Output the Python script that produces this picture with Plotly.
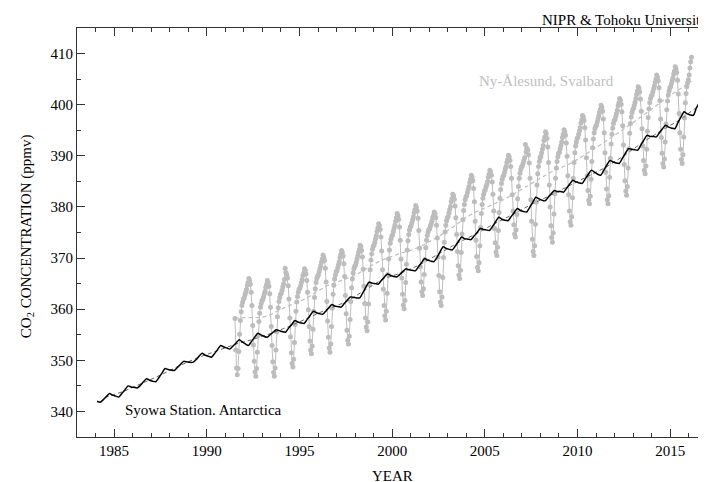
import plotly.graph_objects as go

# ---------------- data ----------------
# Syowa Station, Antarctica: 6 samples per year, starting 1984
syowa_start = 1984.0
syowa_per_year = 6
syowa_co2 = [
    342.0, 341.8, 342.3, 342.9, 343.5, 343.2,   # 1984
    343.0, 342.8, 343.5, 344.2, 345.0, 344.8,   # 1985
    344.7, 344.6, 345.1, 345.8, 346.4, 346.1,   # 1986
    345.9, 345.8, 346.6, 347.5, 348.4, 348.2,   # 1987
    348.1, 348.0, 348.6, 349.2, 349.8, 349.7,   # 1988
    349.6, 349.6, 350.1, 350.8, 351.4, 351.0,   # 1989
    350.8, 350.6, 351.3, 352.1, 352.9, 352.6,   # 1990
    352.4, 352.2, 352.8, 353.4, 354.0, 353.6,   # 1991
    353.2, 352.9, 353.7, 354.5, 355.3, 355.0,   # 1992
    354.7, 354.5, 355.0, 355.5, 356.0, 355.8,   # 1993
    355.6, 355.5, 356.3, 357.0, 357.8, 357.5,   # 1994
    357.3, 357.2, 358.0, 358.8, 359.6, 359.3,   # 1995
    359.1, 359.0, 359.6, 360.3, 360.9, 360.6,   # 1996
    360.5, 360.4, 361.1, 361.8, 362.4, 362.3,   # 1997
    362.2, 362.2, 363.2, 364.3, 365.3, 365.1,   # 1998
    365.0, 364.9, 365.6, 366.3, 366.9, 366.6,   # 1999
    366.4, 366.3, 366.8, 367.4, 367.9, 367.7,   # 2000
    367.6, 367.5, 368.3, 369.1, 369.9, 369.6,   # 2001
    369.4, 369.3, 370.1, 371.2, 372.2, 371.9,   # 2002
    371.7, 371.6, 372.4, 373.3, 374.1, 373.8,   # 2003
    373.7, 373.6, 374.3, 375.0, 375.8, 375.6,   # 2004
    375.5, 375.4, 376.2, 377.1, 378.0, 377.6,   # 2005
    377.4, 377.3, 378.1, 378.9, 379.7, 379.3,   # 2006
    379.1, 379.0, 379.9, 380.9, 381.9, 381.6,   # 2007
    381.3, 381.2, 381.9, 382.6, 383.2, 383.0,   # 2008
    383.0, 382.9, 383.7, 384.5, 385.2, 384.9,   # 2009
    384.7, 384.6, 385.5, 386.4, 387.2, 386.8,   # 2010
    386.4, 386.2, 387.2, 388.2, 389.1, 388.8,   # 2011
    388.6, 388.5, 389.5, 390.5, 391.4, 391.3,   # 2012
    391.2, 391.1, 392.1, 393.1, 394.0, 393.8,   # 2013
    393.8, 393.7, 394.5, 395.3, 396.0, 395.6,   # 2014
    395.4, 395.3, 396.5, 397.6, 398.6, 398.2,   # 2015
    398.0, 397.9, 399.4, 400.5,                 # 2016
]

syowa_trend_year = [1984.5, 1985.5, 1986.5, 1987.5, 1988.5, 1989.5, 1990.5, 1991.5,
                    1992.5, 1993.5, 1994.5, 1995.5, 1996.5, 1997.5, 1998.5, 1999.5,
                    2000.5, 2001.5, 2002.5, 2003.5, 2004.5, 2005.5, 2006.5, 2007.5,
                    2008.5, 2009.5, 2010.5, 2011.5, 2012.5, 2013.5, 2014.5, 2015.5, 2016.4]
syowa_trend = [342.7, 343.9, 345.5, 347.1, 348.9, 350.5, 351.8, 353.1,
               354.1, 355.3, 356.7, 358.4, 360.0, 361.4, 363.7, 365.9,
               367.1, 368.7, 370.8, 372.9, 374.7, 376.7, 378.5, 380.5,
               382.2, 384.1, 385.9, 387.7, 390.0, 392.6, 394.9, 397.0, 399.4]

# Ny-Alesund, Svalbard: 24 samples per year, starting July 1991
ny_start = 1991.5
ny_per_year = 24
ny_co2 = [
    358.2, 352.0, 348.5, 347.2, 348.4, 351.7, 355.1, 357.8, 359.5, 360.7, 361.4, 362.0,  # 1991
    362.2, 362.8, 363.3, 363.9, 364.7, 365.2, 366.0, 365.6, 364.9, 363.3, 360.7, 356.8,
    353.0, 349.8, 347.7, 346.9, 348.4, 351.6, 354.9, 357.6, 359.2, 360.4, 361.1, 361.7,  # 1992
    361.9, 362.4, 363.0, 363.5, 364.3, 364.9, 365.6, 365.2, 364.5, 363.0, 360.4, 356.6,
    352.9, 349.7, 347.6, 346.9, 348.5, 352.0, 355.6, 358.5, 360.3, 361.5, 362.3, 362.9,  # 1993
    363.1, 363.7, 364.4, 365.0, 365.8, 368.0, 367.2, 366.8, 366.1, 364.6, 362.0, 358.3,
    354.6, 351.5, 349.4, 348.7, 350.2, 353.5, 357.0, 359.6, 361.4, 362.5, 363.3, 363.9,  # 1994
    364.1, 364.6, 365.2, 365.8, 366.6, 367.1, 367.9, 367.6, 366.9, 365.6, 363.3, 359.9,
    356.6, 353.8, 352.0, 351.3, 352.8, 356.1, 359.6, 362.3, 364.0, 365.2, 366.0, 366.5,  # 1995
    366.7, 367.3, 367.9, 368.5, 369.2, 369.8, 370.6, 370.2, 369.5, 368.0, 365.3, 361.5,
    357.7, 354.5, 352.4, 351.6, 353.2, 356.6, 360.2, 362.9, 364.7, 365.9, 366.7, 367.3,  # 1996
    367.5, 368.1, 368.7, 369.3, 370.1, 370.7, 371.5, 371.1, 370.4, 368.9, 366.4, 362.7,
    359.1, 355.9, 353.9, 353.2, 354.7, 358.0, 361.5, 364.2, 365.9, 367.1, 367.9, 368.4,  # 1997
    368.6, 369.2, 369.8, 370.4, 371.1, 371.7, 372.5, 372.2, 371.5, 370.2, 367.8, 364.5,
    361.1, 358.3, 356.5, 355.8, 357.5, 361.0, 364.8, 367.7, 369.6, 370.8, 371.7, 372.3,  # 1998
    372.5, 373.1, 373.8, 374.4, 375.2, 375.9, 376.7, 376.3, 375.6, 374.1, 371.4, 367.7,
    363.9, 360.7, 358.7, 357.9, 359.6, 363.1, 366.8, 369.8, 371.6, 372.9, 373.7, 374.3,  # 1999
    374.5, 375.2, 375.8, 376.4, 377.2, 377.9, 378.7, 378.3, 377.6, 376.1, 373.5, 369.8,
    366.1, 362.9, 360.8, 360.1, 361.7, 365.2, 368.8, 371.6, 373.4, 374.6, 375.5, 376.1,  # 2000
    376.3, 376.9, 377.5, 378.1, 378.9, 379.5, 380.3, 379.9, 379.2, 377.8, 375.4, 371.9,
    368.3, 365.3, 363.4, 362.7, 364.0, 366.8, 369.7, 372.0, 373.5, 374.4, 375.1, 375.6,  # 2001
    375.7, 376.2, 376.7, 377.2, 377.9, 378.3, 379.0, 378.6, 377.9, 376.4, 373.9, 370.2,
    366.6, 363.4, 361.4, 360.7, 362.4, 366.2, 370.1, 373.1, 375.1, 376.4, 377.3, 377.9,  # 2002
    378.1, 378.8, 379.5, 380.1, 381.0, 381.6, 382.5, 382.2, 381.5, 380.2, 377.9, 374.6,
    371.3, 368.5, 366.7, 366.0, 367.6, 371.1, 374.7, 377.5, 379.3, 380.5, 381.4, 382.0,  # 2003
    382.2, 382.8, 383.4, 384.0, 384.8, 385.4, 386.2, 385.8, 385.1, 383.6, 381.0, 377.2,
    373.5, 370.3, 368.2, 367.5, 369.1, 372.4, 376.0, 378.7, 380.5, 381.7, 382.5, 383.1,  # 2004
    383.3, 383.9, 384.4, 385.0, 385.8, 386.4, 387.2, 386.9, 386.2, 384.9, 382.5, 379.2,
    375.8, 373.0, 371.2, 370.5, 372.1, 375.4, 378.9, 381.7, 383.4, 384.6, 385.4, 386.0,  # 2005
    386.2, 386.8, 387.4, 387.9, 388.7, 389.3, 390.1, 389.8, 389.1, 387.9, 385.6, 382.4,
    379.2, 376.5, 374.7, 374.1, 375.5, 378.5, 381.6, 384.0, 385.6, 386.6, 387.3, 387.8,  # 2006
    388.0, 388.5, 389.1, 389.6, 392.2, 390.8, 391.5, 391.1, 390.2, 388.6, 385.6, 381.4,
    377.2, 373.7, 371.3, 370.5, 372.4, 376.6, 380.9, 384.3, 386.5, 387.9, 388.9, 389.6,  # 2007
    389.9, 390.6, 391.3, 392.0, 393.0, 393.7, 394.7, 394.3, 393.4, 391.7, 388.7, 384.3,
    380.0, 376.3, 374.0, 373.1, 374.9, 378.6, 382.6, 385.6, 387.6, 388.9, 389.8, 390.5,  # 2008
    390.7, 391.4, 392.0, 392.7, 393.6, 394.2, 395.1, 394.7, 394.0, 392.5, 389.9, 386.1,
    382.4, 379.2, 377.1, 376.4, 378.1, 381.8, 385.6, 388.7, 390.6, 391.9, 392.7, 393.4,  # 2009
    393.6, 394.2, 394.9, 395.5, 396.4, 397.0, 397.9, 397.6, 396.9, 395.5, 393.1, 389.6,
    386.1, 383.2, 381.3, 380.6, 382.1, 385.4, 388.9, 391.6, 393.3, 394.5, 395.3, 395.8,  # 2010
    396.0, 396.6, 397.2, 397.8, 398.5, 399.1, 399.9, 399.5, 398.7, 397.2, 394.5, 390.6,
    386.8, 383.5, 381.4, 380.6, 382.2, 385.8, 389.5, 392.3, 394.2, 395.4, 396.3, 396.9,  # 2011
    397.1, 397.7, 398.3, 398.9, 399.8, 400.4, 401.2, 400.8, 400.1, 398.6, 395.9, 392.1,
    388.3, 385.1, 383.1, 382.3, 384.0, 387.6, 391.4, 394.4, 396.3, 397.6, 398.4, 399.0,  # 2012
    399.3, 399.9, 400.5, 401.2, 402.0, 402.7, 403.5, 403.2, 402.5, 401.1, 398.7, 395.3,
    391.9, 389.1, 387.2, 386.5, 388.0, 391.3, 394.8, 397.5, 399.2, 400.4, 401.2, 401.7,  # 2013
    401.9, 402.5, 403.1, 403.7, 404.4, 405.0, 405.8, 405.4, 404.7, 403.3, 400.8, 397.2,
    393.6, 390.5, 388.5, 387.8, 389.4, 392.7, 396.2, 399.0, 400.7, 401.9, 402.7, 403.3,  # 2014
    403.5, 404.1, 404.7, 405.2, 406.0, 406.6, 407.4, 407.0, 406.3, 404.8, 402.1, 398.3,
    394.5, 391.3, 389.3, 388.5, 390.2, 393.7, 397.4, 400.4, 402.2, 403.5, 404.3, 404.9,  # 2015
    405.8, 407.2, 408.4, 409.3,                                                          # 2016
]

ny_trend_year = [1991.5, 1992.0, 1992.5, 1993.0, 1993.5, 1994.0, 1994.5, 1995.0, 1995.5,
                 1996.0, 1996.5, 1997.0, 1997.5, 1998.0, 1998.5, 1999.0, 1999.5, 2000.0,
                 2000.5, 2001.0, 2001.5, 2002.0, 2002.5, 2003.0, 2003.5, 2004.0, 2004.5,
                 2005.0, 2005.5, 2006.0, 2006.5, 2007.0, 2007.5, 2008.0, 2008.5, 2009.0,
                 2009.5, 2010.0, 2010.5, 2011.0, 2011.5, 2012.0, 2012.5, 2013.0, 2013.5,
                 2014.0, 2014.5, 2015.0, 2015.5, 2016.0, 2016.14]
ny_trend = [358.3, 358.3, 358.3, 358.4, 359.0, 360.0, 360.8, 361.5, 362.4,
            363.6, 364.6, 365.3, 365.9, 366.6, 367.7, 368.8, 369.7, 370.4,
            371.0, 371.5, 372.2, 373.2, 374.2, 375.4, 376.6, 378.0, 379.0,
            379.8, 380.6, 381.4, 382.4, 383.5, 384.6, 385.7, 386.7, 387.5,
            388.3, 389.3, 390.4, 391.6, 392.8, 394.0, 395.2, 396.5, 397.8,
            399.2, 400.5, 401.8, 403.1, 404.3, 404.6]

x_tick_values = [1985, 1990, 1995, 2000, 2005, 2010, 2015]
y_tick_values = [340, 350, 360, 370, 380, 390, 400, 410]

# sample times (decimal years) for the regularly sampled series
syowa_time = [syowa_start + (i + 0.5) / syowa_per_year for i in range(len(syowa_co2))]
ny_time = [ny_start + (i + 0.5) / ny_per_year for i in range(len(ny_co2))]

FONT = "Times New Roman, Liberation Serif, DejaVu Serif, serif"
FS = 15
GRAY = "#bdbdbd"
AX = "#333333"

fig = go.Figure()

fig.add_trace(go.Scatter(
    x=ny_time, y=ny_co2, mode="lines+markers",
    line=dict(color=GRAY, width=1),
    marker=dict(color=GRAY, size=5),
    showlegend=False, hoverinfo="skip"))
fig.add_trace(go.Scatter(
    x=ny_trend_year, y=ny_trend, mode="lines",
    line=dict(color=GRAY, width=1.2, dash="4px,3px"),
    showlegend=False, hoverinfo="skip"))
fig.add_trace(go.Scatter(
    x=syowa_trend_year, y=syowa_trend, mode="lines",
    line=dict(color="#666666", width=1, dash="4px,3px"),
    showlegend=False, hoverinfo="skip"))
fig.add_trace(go.Scatter(
    x=syowa_time, y=syowa_co2, mode="lines", line_shape="spline",
    line=dict(color="black", width=1.5, smoothing=0.6),
    showlegend=False, hoverinfo="skip"))

axis_common = dict(
    showgrid=False, zeroline=False, showline=True, linecolor=AX, linewidth=1.2,
    mirror="allticks", ticks="inside", ticklen=8, tickwidth=1, tickcolor=AX,
    tickfont=dict(family=FONT, size=FS, color="black"),
)

# the page body adds an 8 px offset, so the figure is 8 px smaller each way
fig.update_layout(
    width=698, height=474,
    margin=dict(l=69, r=0, t=20, b=45),
    paper_bgcolor="white", plot_bgcolor="white",
    font=dict(family=FONT, size=FS, color="black"),
    xaxis=dict(range=[1983, 2016.93], tickmode="array", tickvals=x_tick_values,
               minor=dict(dtick=1, tick0=1983, ticks="inside", ticklen=4,
                          tickcolor=AX, showgrid=False),
               **axis_common),
    yaxis=dict(range=[335, 415], tickmode="array", tickvals=y_tick_values,
               minor=dict(dtick=5, tick0=335, ticks="inside", ticklen=4,
                          tickcolor=AX, showgrid=False),
               **axis_common),
    annotations=[
        dict(text="CO<sub>2</sub> CONCENTRATION (ppmv)", xref="paper", yref="paper",
             x=-0.0795, y=0.491, textangle=-90, showarrow=False,
             xanchor="center", yanchor="middle", font=dict(family=FONT, size=FS)),
        dict(text="YEAR", xref="paper", yref="paper", x=0.502, y=-0.095,
             showarrow=False, xanchor="center", yanchor="middle",
             font=dict(family=FONT, size=FS)),
        dict(text="NIPR &amp; Tohoku University", xref="paper", yref="paper",
             x=1.006, y=0.995, showarrow=False, xanchor="right", yanchor="bottom",
             font=dict(family=FONT, size=FS)),
        dict(text="Ny-Ålesund, Svalbard", x=2008.3, y=404.6, xref="x", yref="y",
             showarrow=False, xanchor="center", yanchor="middle",
             font=dict(family=FONT, size=FS, color="#c0c0c0")),
        dict(text="Syowa Station. Antarctica", x=1989.8, y=340.3, xref="x", yref="y",
             showarrow=False, xanchor="center", yanchor="middle",
             font=dict(family=FONT, size=FS, color="black")),
    ],
)

fig.write_html("out.html")
